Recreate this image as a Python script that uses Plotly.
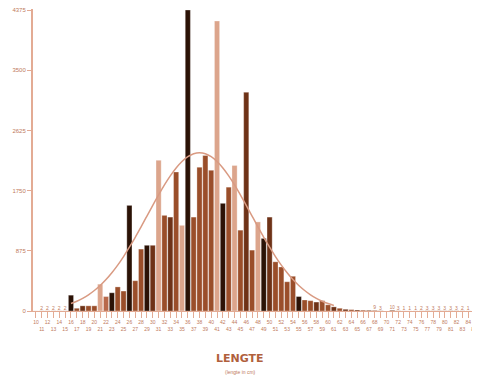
import plotly.graph_objects as go

# ---- data ----
lengths = [str(v) for v in range(10, 86)]  # 76 length classes (cm), labels approximate
counts = [1, 2, 2, 2, 2, 2, 230, 40, 75, 75,
          75, 390, 210, 265, 350, 290, 1535, 440, 900, 955,
          955, 2190, 1390, 1365, 2020, 1245, 4375, 1365, 2090, 2260,
          2045, 4215, 1565, 1800, 2115, 1175, 3180, 885, 1295, 1055,
          1365, 715, 640, 425, 505, 210, 160, 150, 130, 150,
          90, 60, 40, 25, 20, 15, 12, 10, 9, 3,
          0, 10, 3, 1, 1, 1, 2, 3, 3, 3,
          3, 3, 3, 2, 1, 1]
bar_labels = ["", "2", "2", "2", "2", "2"] + [""] * 52 + \
             ["9", "3", "", "10", "3", "1", "1", "1", "2", "3", "3", "3", "3", "3", "3", "2", "1", "1"]
# fitted-normal curve (only drawn over classes 6..51)
curve = [None] * 6 + [108, 142, 184, 235, 298, 371, 457, 556, 667, 791,
                      927, 1071, 1224, 1380, 1536, 1688, 1833, 1964, 2079, 2173,
                      2243, 2286, 2300, 2286, 2243, 2173, 2079, 1964, 1833, 1688,
                      1536, 1380, 1224, 1071, 927, 791, 667, 556, 457, 371,
                      298, 235, 184, 142, 108, 81] + [None] * 24
y_ticks = [0, 875, 1750, 2625, 3500, 4375]

# ---- styles ----
BLACK, DARK, MID, LIGHT, MIDL = "#2b1206", "#6e3217", "#9a4e2a", "#dca58c", "#b8694a"
bar_colors = [MID, MID, MID, MID, MID, MID, BLACK, MID, DARK, MID,
              MID, LIGHT, MIDL, BLACK, MID, MID, BLACK, MID, MID, BLACK,
              DARK, LIGHT, MID, DARK, MID, LIGHT, BLACK, MID, MID, MID,
              MID, LIGHT, BLACK, MID, LIGHT, MID, DARK, MID, LIGHT, BLACK,
              DARK, MID, MID, MID, MID, BLACK, MID, MID, DARK, MID,
              MID, DARK, MID, DARK, MID, DARK, MID, DARK, MID, DARK,
              MID, DARK, MID, DARK, MID, DARK, MID, DARK, MID, DARK,
              MID, DARK, MID, DARK, MID, DARK]
AXIS = "#e3ab94"
TXT = "#c07a5c"

x = list(range(len(lengths)))
ticktext = [lab if i % 2 == 0 else "<br>" + lab for i, lab in enumerate(lengths)]

fig = go.Figure()
fig.add_trace(go.Bar(
    x=x, y=counts, marker=dict(color=bar_colors, line=dict(color="rgba(255,255,255,0.6)", width=0.5)),
    text=bar_labels, textposition="outside", cliponaxis=False,
    textfont=dict(size=5, color=TXT), showlegend=False,
))
fig.add_trace(go.Scatter(
    x=x, y=curve, mode="lines", line=dict(color="#d99a82", width=1.5, shape="spline"),
    connectgaps=False, showlegend=False,
))

# page body has an 8px default margin, so the figure is made 8px smaller on each side
fig.update_layout(
    width=472, height=372,
    margin=dict(l=25, r=3, t=1, b=69, autoexpand=False),
    paper_bgcolor="white", plot_bgcolor="white",
    bargap=0.12,
    font=dict(family="Liberation Sans, Arial, sans-serif", color=TXT),
    xaxis=dict(range=[-0.5, len(lengths) - 0.5], tickmode="array", tickvals=x, ticktext=ticktext,
               tickangle=0, tickfont=dict(size=5, color=TXT), ticks="outside", ticklen=6,
               tickcolor=AXIS, showline=True, linecolor=AXIS, linewidth=1,
               showgrid=False, zeroline=False, automargin=False, ticklabeloverflow="allow"),
    yaxis=dict(range=[0, 4390], tickmode="array", tickvals=y_ticks,
               ticktext=[str(v) for v in y_ticks], tickfont=dict(size=6, color=TXT),
               ticks="outside", ticklen=4, tickcolor=AXIS, showline=True, linecolor=AXIS,
               linewidth=2, showgrid=False, zeroline=False, automargin=False,
               ticklabeloverflow="allow"),
    annotations=[
        dict(text="<b>LENGTE</b>", x=0.466, y=-0.156, xref="paper", yref="paper",
             showarrow=False, font=dict(size=11, color="#b0603c", family="DejaVu Sans"),
             xanchor="center", yanchor="middle"),
        dict(text="(lengte in cm)", x=0.468, y=-0.202, xref="paper", yref="paper",
             showarrow=False, font=dict(size=5, color=TXT), xanchor="center", yanchor="middle"),
    ],
)

fig.write_html("out.html")
